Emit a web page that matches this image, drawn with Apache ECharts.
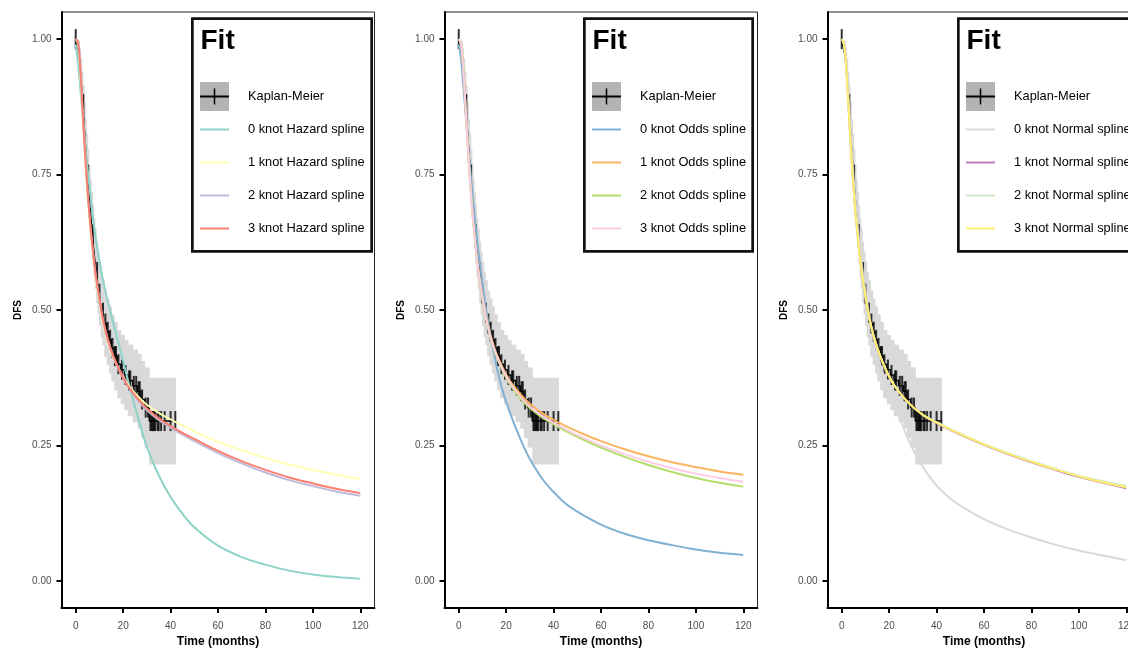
<!DOCTYPE html>
<html><head><meta charset="utf-8">
<script src="https://cdn.jsdelivr.net/npm/echarts@6/dist/echarts.min.js"></script>
<style>html,body{margin:0;padding:0;background:#fff}#c{width:1128px;height:648px}</style>
</head><body><div id="c"></div>
<script>
// ---------- DATA ----------
const xTicks = [0, 20, 40, 60, 80, 100, 120];
const yTicks = [0, 0.25, 0.5, 0.75, 1];
const yTickLabels = ['0.00', '0.25', '0.50', '0.75', '1.00'];

// Kaplan-Meier steps (time, survival after the step, CI lower, CI upper)
const kmTime  = [0, 0.8, 1.5, 2.0, 2.5, 3.0, 3.5, 4.0, 4.5, 5.0, 5.5, 6.0, 6.5, 7.0, 7.5, 8.0, 8.6, 9.2, 9.8, 10.5, 11.2, 12.0, 13.0, 14.0, 15.0, 16.2, 17.5, 19.0, 20.5, 22.0, 24.0, 26.0, 27.5, 29.0, 31.0];
const kmSurv  = [1.0, 0.985, 0.965, 0.94, 0.91, 0.88, 0.845, 0.81, 0.78, 0.75, 0.72, 0.69, 0.665, 0.64, 0.615, 0.595, 0.57, 0.55, 0.53, 0.51, 0.495, 0.475, 0.46, 0.445, 0.43, 0.415, 0.40, 0.39, 0.38, 0.37, 0.36, 0.35, 0.335, 0.32, 0.295];
const kmLower = [1.0, 0.973, 0.947, 0.916, 0.88, 0.846, 0.807, 0.768, 0.735, 0.703, 0.671, 0.639, 0.612, 0.586, 0.56, 0.539, 0.513, 0.492, 0.471, 0.45, 0.435, 0.414, 0.399, 0.383, 0.368, 0.352, 0.337, 0.326, 0.315, 0.304, 0.293, 0.281, 0.264, 0.246, 0.215];
const kmUpper = [1.0, 0.997, 0.983, 0.964, 0.94, 0.914, 0.883, 0.852, 0.825, 0.797, 0.769, 0.741, 0.718, 0.694, 0.67, 0.651, 0.627, 0.608, 0.589, 0.57, 0.555, 0.536, 0.521, 0.507, 0.492, 0.478, 0.463, 0.454, 0.445, 0.436, 0.427, 0.419, 0.406, 0.394, 0.375];
const kmEnd = 42;
const censorTime = [0, 3.2, 5.2, 7.2, 9.0, 10.0, 11.5, 12.5, 13.5, 14.5, 15.5, 16.5, 17.0, 18.0, 19.5, 21.0, 22.5, 23.0, 24.5, 25.5, 26.5, 27.0, 28.0, 29.5, 30.5, 31.5, 32.0, 32.5, 33.0, 33.5, 34.5, 35.0, 36.0, 37.5, 40.0, 42.0];
const censorSurv = [1.0, 0.88, 0.75, 0.64, 0.57, 0.53, 0.495, 0.475, 0.46, 0.445, 0.43, 0.415, 0.415, 0.40, 0.39, 0.38, 0.37, 0.37, 0.36, 0.36, 0.35, 0.35, 0.335, 0.32, 0.32, 0.295, 0.295, 0.295, 0.295, 0.295, 0.295, 0.295, 0.295, 0.295, 0.295, 0.295];

// Fitted spline curves, evaluated at fitTime
const fitTime = [0, 1, 2, 3, 4, 5, 6, 8, 10, 12, 15, 18, 21, 24, 27, 30, 35, 40, 45, 50, 60, 70, 80, 90, 100, 110, 120];
const hazard0 = [0.99, 0.955, 0.905, 0.855, 0.805, 0.76, 0.72, 0.645, 0.59, 0.545, 0.49, 0.44, 0.388, 0.337, 0.29, 0.247, 0.195, 0.155, 0.124, 0.099, 0.065, 0.044, 0.03, 0.019, 0.012, 0.007, 0.004];
const hazard1 = [1.0, 0.99, 0.93, 0.85, 0.775, 0.71, 0.655, 0.572, 0.513, 0.466, 0.421, 0.392, 0.369, 0.351, 0.337, 0.325, 0.31, 0.298, 0.287, 0.276, 0.257, 0.241, 0.227, 0.215, 0.205, 0.196, 0.188];
const hazard2 = [1.0, 0.995, 0.94, 0.86, 0.785, 0.72, 0.664, 0.579, 0.519, 0.471, 0.424, 0.392, 0.366, 0.346, 0.329, 0.315, 0.297, 0.283, 0.27, 0.258, 0.236, 0.217, 0.2, 0.186, 0.175, 0.165, 0.157];
const hazard3 = [1.0, 0.995, 0.94, 0.86, 0.785, 0.72, 0.665, 0.58, 0.52, 0.472, 0.425, 0.393, 0.367, 0.348, 0.332, 0.318, 0.3, 0.286, 0.273, 0.262, 0.24, 0.221, 0.205, 0.191, 0.18, 0.17, 0.162];
const odds0 = [0.99, 0.962, 0.91, 0.856, 0.803, 0.753, 0.705, 0.62, 0.549, 0.489, 0.416, 0.359, 0.318, 0.283, 0.252, 0.225, 0.19, 0.164, 0.143, 0.128, 0.104, 0.087, 0.075, 0.066, 0.058, 0.052, 0.048];
const odds1 = [1.0, 0.99, 0.94, 0.865, 0.79, 0.725, 0.67, 0.585, 0.525, 0.478, 0.43, 0.398, 0.373, 0.355, 0.34, 0.327, 0.31, 0.297, 0.286, 0.276, 0.258, 0.243, 0.23, 0.219, 0.21, 0.202, 0.196];
const odds2 = [1.0, 0.99, 0.94, 0.865, 0.79, 0.725, 0.668, 0.582, 0.521, 0.473, 0.425, 0.393, 0.367, 0.348, 0.332, 0.319, 0.302, 0.289, 0.277, 0.266, 0.246, 0.229, 0.214, 0.201, 0.19, 0.181, 0.174];
const odds3 = [1.0, 0.99, 0.94, 0.865, 0.79, 0.725, 0.669, 0.583, 0.523, 0.475, 0.427, 0.395, 0.37, 0.351, 0.335, 0.322, 0.305, 0.292, 0.28, 0.269, 0.25, 0.234, 0.22, 0.208, 0.198, 0.19, 0.183];
const normal0 = [1.0, 0.99, 0.95, 0.88, 0.81, 0.745, 0.69, 0.6, 0.535, 0.48, 0.42, 0.375, 0.339, 0.306, 0.272, 0.243, 0.205, 0.176, 0.155, 0.139, 0.114, 0.095, 0.08, 0.067, 0.056, 0.047, 0.038];
const normal1 = [1.0, 0.99, 0.94, 0.865, 0.79, 0.725, 0.67, 0.585, 0.525, 0.477, 0.43, 0.396, 0.369, 0.35, 0.334, 0.321, 0.304, 0.291, 0.28, 0.27, 0.251, 0.234, 0.219, 0.205, 0.192, 0.181, 0.171];
const normal2 = [1.0, 0.99, 0.94, 0.865, 0.79, 0.725, 0.67, 0.585, 0.525, 0.477, 0.43, 0.396, 0.369, 0.35, 0.334, 0.321, 0.304, 0.293, 0.282, 0.272, 0.253, 0.236, 0.221, 0.207, 0.194, 0.184, 0.175];
const normal3 = [1.0, 0.99, 0.94, 0.865, 0.79, 0.725, 0.67, 0.585, 0.525, 0.477, 0.43, 0.396, 0.369, 0.35, 0.334, 0.321, 0.304, 0.292, 0.281, 0.271, 0.252, 0.235, 0.22, 0.206, 0.193, 0.182, 0.173];

const panelNames = [
  ['0 knot Hazard spline', '1 knot Hazard spline', '2 knot Hazard spline', '3 knot Hazard spline'],
  ['0 knot Odds spline', '1 knot Odds spline', '2 knot Odds spline', '3 knot Odds spline'],
  ['0 knot Normal spline', '1 knot Normal spline', '2 knot Normal spline', '3 knot Normal spline']
];
const panelValues = [
  [hazard0, hazard1, hazard2, hazard3],
  [odds0, odds1, odds2, odds3],
  [normal0, normal1, normal2, normal3]
];
const panelColors = [
  ['#8DD3C7', '#FFFFB3', '#BEBADA', '#FB8072'],
  ['#80B1D3', '#FDB462', '#B3DE69', '#FCCDE5'],
  ['#D9D9D9', '#BC80BD', '#CCEBC5', '#FFED6F']
];
const kmName = 'Kaplan-Meier';
const legendTitle = 'Fit';
const xTitle = 'Time (months)';
const yTitle = 'DFS';

// ---------- LAYOUT ----------
const FONT = 'Liberation Sans, Arial, Helvetica, sans-serif';
const panelLeft = [61.5, 444.5, 827.5];
const panelW = 313;
const gridTop = 12, gridH = 596;
const boxLeft = [191, 583, 957];
const boxRight = [373, 754, 1139];
const boxTop = 17.3, boxBottom = 252.7;
const legendTop = 82;

const grids = [], xAxes = [], yAxes = [], series = [], legends = [], graphics = [];

const kmLine = kmTime.map((t, i) => [t, kmSurv[i]]).concat([[kmEnd, kmSurv[kmSurv.length - 1]]]);
const kmBand = kmTime.map((t, i) => [t, i + 1 < kmTime.length ? kmTime[i + 1] : kmEnd, kmLower[i], kmUpper[i]]);
const censorPts = censorTime.map((t, i) => [t, censorSurv[i]]);

for (let p = 0; p < 3; p++) {
  grids.push({left: panelLeft[p], top: gridTop, width: panelW, height: gridH,
    outerBoundsMode: 'none', containLabel: false,
    show: true, borderColor: '#222', borderWidth: 1, backgroundColor: 'transparent'});
  xAxes.push({type: 'value', gridIndex: p, min: -6, max: 126,
    name: xTitle, nameLocation: 'middle', nameGap: 27,
    nameTextStyle: {fontFamily: FONT, fontSize: 12, fontWeight: 'bold', color: '#000'},
    splitLine: {show: false},
    axisLine: {show: true, onZero: false, lineStyle: {color: '#000', width: 2}},
    axisTick: {show: true, length: 5, lineStyle: {color: '#000', width: 2}, customValues: xTicks},
    axisLabel: {customValues: xTicks, margin: 13, fontFamily: FONT, fontSize: 10, color: '#4d4d4d',
      formatter: v => String(v)}
  });
  yAxes.push({type: 'value', gridIndex: p, min: -0.05, max: 1.05,
    name: yTitle, nameLocation: 'middle', nameGap: 38, nameRotate: 90,
    nameTextStyle: {fontFamily: FONT, fontSize: 10, fontWeight: 'bold', color: '#000'},
    splitLine: {show: false},
    axisLine: {show: true, onZero: false, lineStyle: {color: '#000', width: 2}},
    axisTick: {show: true, length: 5, lineStyle: {color: '#000', width: 2}, customValues: yTicks},
    axisLabel: {customValues: yTicks, margin: 10, fontFamily: FONT, fontSize: 10, color: '#4d4d4d',
      formatter: v => yTickLabels[yTicks.indexOf(v)] !== undefined ? yTickLabels[yTicks.indexOf(v)] : v.toFixed(2)}
  });

  series.push({
    type: 'custom', name: 'KM CI', xAxisIndex: p, yAxisIndex: p, silent: true,
    encode: {x: [0, 1], y: [2, 3]},
    data: kmBand,
    renderItem: (params, api) => {
      const a = api.coord([api.value(0), api.value(3)]);
      const b = api.coord([api.value(1), api.value(2)]);
      return {type: 'rect', shape: {x: a[0], y: a[1], width: b[0] - a[0] + 0.6, height: b[1] - a[1]},
        style: {fill: '#d9d9d9'}};
    }
  });
  series.push({
    type: 'line', name: kmName, xAxisIndex: p, yAxisIndex: p, step: 'end',
    symbol: 'none', data: kmLine, lineStyle: {color: '#000', width: 1.4}, itemStyle: {color: '#000'}
  });
  series.push({
    type: 'scatter', name: 'KM censored', xAxisIndex: p, yAxisIndex: p,
    symbol: 'rect', symbolSize: [2, 20], data: censorPts, itemStyle: {color: '#000'}
  });
  for (let k = 0; k < 4; k++) {
    series.push({
      type: 'line', name: panelNames[p][k], xAxisIndex: p, yAxisIndex: p,
      symbol: 'none', smooth: 0.35,
      data: fitTime.map((t, i) => [t, panelValues[p][k][i]]),
      lineStyle: {color: panelColors[p][k], width: 2}, itemStyle: {color: panelColors[p][k]}
    });
  }

  legends.push({
    show: true, left: boxLeft[p] + 9, top: legendTop, orient: 'vertical',
    itemWidth: 29, itemHeight: 29, itemGap: 4, padding: 0, selectedMode: false,
    icon: 'path://M0,0H29V2H0Z',
    itemStyle: {borderWidth: 0},
    textStyle: {fontFamily: FONT, fontSize: 12.8, color: '#000', lineHeight: 29, padding: [0, 0, 0, 14]},
    data: [{name: kmName, icon: 'rect', itemStyle: {color: '#b3b3b3'}}].concat(panelNames[p].map(n => ({name: n})))
  });

  graphics.push({type: 'rect', z: 3,
    shape: {x: boxLeft[p] + 1.35, y: boxTop + 1.35, width: boxRight[p] - boxLeft[p] - 2.7, height: boxBottom - boxTop - 2.7},
    style: {fill: '#fff', stroke: '#111', lineWidth: 2.7}});
  graphics.push({type: 'text', z: 5, x: boxLeft[p] + 9.5, y: 41.5,
    style: {text: legendTitle, font: 'bold 28px ' + FONT, fill: '#000', verticalAlign: 'middle', align: 'left'}});
  const cy = legendTop + 14.5, cx0 = boxLeft[p] + 9;
  graphics.push({type: 'line', z: 10, shape: {x1: cx0, y1: cy, x2: cx0 + 29, y2: cy}, style: {stroke: '#000', lineWidth: 2}});
  graphics.push({type: 'line', z: 10, shape: {x1: cx0 + 14.5, y1: cy - 8, x2: cx0 + 14.5, y2: cy + 8}, style: {stroke: '#000', lineWidth: 1.5}});
}

const chart = echarts.init(document.getElementById('c'), null, {renderer: 'canvas'});
chart.setOption({
  animation: false,
  backgroundColor: '#fff',
  grid: grids, xAxis: xAxes, yAxis: yAxes,
  legend: legends,
  graphic: graphics,
  series: series
});
</script></body></html>
